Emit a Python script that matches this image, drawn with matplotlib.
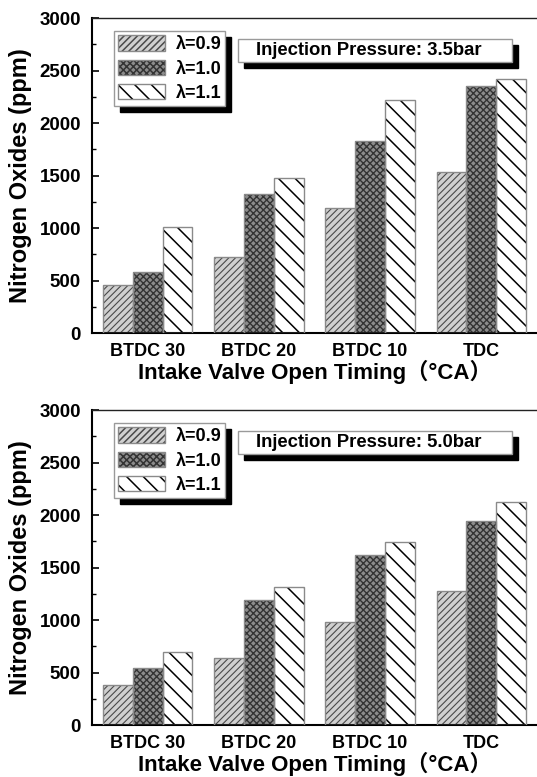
import matplotlib
matplotlib.use('Agg')
import matplotlib.pyplot as plt
from matplotlib.patches import Rectangle
import numpy as np

# ---------------- data ----------------
categories = ['BTDC 30', 'BTDC 20', 'BTDC 10', 'TDC']
lambda_labels = ['λ=0.9', 'λ=1.0', 'λ=1.1']
pressure_labels = ['Injection Pressure: 3.5bar', 'Injection Pressure: 5.0bar']

nox_35_l09 = [455, 724, 1191, 1530]
nox_35_l10 = [585, 1327, 1826, 2356]
nox_35_l11 = [1008, 1476, 2222, 2422]

nox_50_l09 = [384, 637, 984, 1280]
nox_50_l10 = [540, 1191, 1616, 1943]
nox_50_l11 = [700, 1311, 1746, 2122]

y_ticks = [0, 500, 1000, 1500, 2000, 2500, 3000]

panels = [
    (pressure_labels[0], [nox_35_l09, nox_35_l10, nox_35_l11]),
    (pressure_labels[1], [nox_50_l09, nox_50_l10, nox_50_l11]),
]

# ---------------- style ----------------
plt.rcParams['font.family'] = ['Liberation Sans', 'Noto Sans CJK SC', 'DejaVu Sans']
plt.rcParams['font.weight'] = 'bold'

styles = [
    dict(face='#d0d0d0', hatch='/////', hc='#4a4a4a', hlw=0.8),
    dict(face='#8c8c8c', hatch='xxxxx', hc='#333333', hlw=1.0),
    dict(face='white', hatch='\\\\', hc='black', hlw=1.1),
]
outline_color = '#8a8a8a'

fig = plt.figure(figsize=(5.37, 7.77), dpi=100)
positions = [[0.1713, 0.5714, 0.8287, 0.4054],
             [0.1713, 0.0669, 0.8287, 0.4054]]

x = np.arange(len(categories))
w = 0.268
axes = []
legends = []
for pos, (ptitle, series) in zip(positions, panels):
    ax = fig.add_axes(pos)
    axes.append(ax)
    handles = []
    for i, (vals, st) in enumerate(zip(series, styles)):
        plt.rcParams['hatch.linewidth'] = st['hlw']
        xs = x + (i - 1) * w
        ax.bar(xs, vals, w, facecolor=st['face'], edgecolor=st['hc'],
               hatch=st['hatch'], linewidth=0, zorder=2)
        ax.bar(xs, vals, w, fill=False, edgecolor=outline_color,
               linewidth=1.0, zorder=3)
        h1 = Rectangle((0, 0), 1, 1, facecolor=st['face'], edgecolor=st['hc'],
                       hatch=st['hatch'], linewidth=0)
        h2 = Rectangle((0, 0), 1, 1, fill=False, edgecolor=outline_color,
                       linewidth=1.0)
        handles.append((h1, h2))
    ax.set_xlim(-0.5, 3.5)
    ax.set_ylim(0, 3000)
    ax.set_yticks(y_ticks)
    ax.set_yticks(np.arange(250, 3000, 500), minor=True)
    ax.set_xticks(x)
    ax.set_xticklabels(categories, fontsize=13, fontweight='bold')
    ax.tick_params(axis='x', length=0, pad=7)
    ax.tick_params(axis='y', which='major', direction='in', length=5,
                   width=1.2, labelsize=13.5, pad=8)
    ax.tick_params(axis='y', which='minor', direction='in', length=3,
                   width=1.0)
    for lab in ax.get_yticklabels():
        lab.set_fontweight('bold')
    ax.spines['right'].set_visible(False)
    ax.spines['left'].set_linewidth(1.5)
    ax.spines['bottom'].set_linewidth(1.5)
    ax.spines['top'].set_linewidth(1.0)
    ax.spines['top'].set_color('#222222')
    ax.set_ylabel('Nitrogen Oxides (ppm)', fontsize=17, fontweight='bold',
                  labelpad=5)
    ax.set_xlabel('Intake Valve Open Timing（°CA）', fontsize=16,
                  fontweight='bold', labelpad=0)

    leg = ax.legend(handles, lambda_labels, loc='upper left',
                    bbox_to_anchor=(0.049, 0.958), borderaxespad=0,
                    handlelength=2.6, handleheight=0.95,
                    labelspacing=0.35, handletextpad=0.6, borderpad=0.22,
                    fancybox=False, framealpha=1, edgecolor='#9a9a9a',
                    prop=dict(weight='bold', size=13))
    leg.get_frame().set_linewidth(1.0)
    leg.set_zorder(6)
    legends.append(leg)

    # pressure box with shadow
    bx0, bx1, by0, by1 = 0.328, 0.944, 0.861, 0.934
    dxs, dys = 6 / 445, 6 / 315
    ax.add_patch(Rectangle((bx0 + dxs, by0 - dys), bx1 - bx0, by1 - by0,
                           transform=ax.transAxes, facecolor='black',
                           edgecolor='black', zorder=5, clip_on=False))
    ax.add_patch(Rectangle((bx0, by0), bx1 - bx0, by1 - by0,
                           transform=ax.transAxes, facecolor='white',
                           edgecolor='#9a9a9a', linewidth=1.0, zorder=5.5,
                           clip_on=False))
    ax.text(0.3685, (by0 + by1) / 2, ptitle, transform=ax.transAxes,
            ha='left', va='center', fontsize=13.3, fontweight='bold', zorder=7)

# legend shadows
fig.canvas.draw()
for ax, leg in zip(axes, legends):
    bb = leg.get_frame().get_window_extent(fig.canvas.get_renderer())
    bba = bb.transformed(ax.transAxes.inverted())
    dx = 6 / (ax.bbox.width)
    dy = 6 / (ax.bbox.height)
    ax.add_patch(Rectangle((bba.x0 + dx, bba.y0 - dy), bba.width, bba.height,
                           transform=ax.transAxes, facecolor='black',
                           edgecolor='black', zorder=5, clip_on=False))

fig.savefig('out.png', dpi=100)
